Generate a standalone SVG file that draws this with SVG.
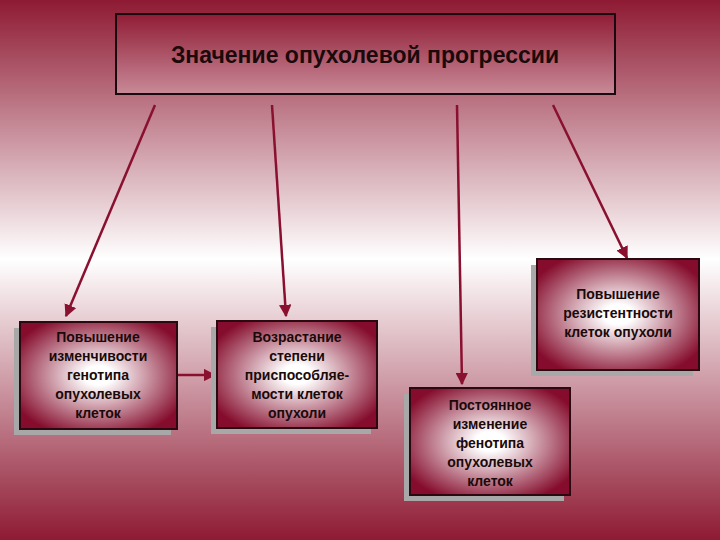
<svg xmlns="http://www.w3.org/2000/svg" width="720" height="540" viewBox="0 0 720 540">
<defs>
<linearGradient id="bg" x1="0" y1="0" x2="0" y2="1">
<stop offset="0" stop-color="#8e1a33"/><stop offset="0.48" stop-color="#ffffff"/><stop offset="1" stop-color="#8e1a33"/>
</linearGradient>
<linearGradient id="tg" x1="0" y1="0" x2="0" y2="1">
<stop offset="0" stop-color="#901c35"/><stop offset="1" stop-color="#c88a98"/>
</linearGradient>
<radialGradient id="bx" cx="0.5" cy="0.5" r="0.6">
<stop offset="0.15" stop-color="#ffffff"/><stop offset="1" stop-color="#850c2c"/>
</radialGradient>
<marker id="ah" viewBox="0 0 10 10" refX="9" refY="5" markerWidth="5" markerHeight="5" orient="auto">
<path d="M0,0 L10,5 L0,10 z" fill="#8a1030"/>
</marker>
<style>
.sh{fill:#a8a8a8}
.b{fill:url(#bx);stroke:#2a0a10;stroke-width:2}
.t{font-family:"Liberation Sans",Arial,sans-serif;font-size:14px;font-weight:bold;fill:#1a0a0a;text-anchor:middle}
.c{stroke:#8a1030;stroke-width:2.5;fill:none;marker-end:url(#ah)}
</style>
</defs>
<rect width="720" height="540" fill="url(#bg)"/>
<g id="title">
<rect x="116" y="14" width="499" height="80" fill="url(#tg)" stroke="#1a0a10" stroke-width="2"/>
<text x="365" y="63" class="t" style="font-size:23px">Значение опухолевой прогрессии</text>
</g>
<g id="connectors">
<line class="c" x1="155" y1="105" x2="66" y2="316"/>
<line class="c" x1="272" y1="105" x2="286" y2="316"/>
<line class="c" x1="457" y1="105" x2="462" y2="384"/>
<line class="c" x1="553" y1="105" x2="627" y2="258"/>
<line class="c" x1="178" y1="375" x2="215" y2="375"/>
</g>
<g id="n1">
<rect class="sh" x="14" y="328" width="157" height="107"/>
<rect class="b" x="20" y="322" width="157" height="107"/>
<text class="t" x="98" y="342">Повышение<tspan x="98" dy="19">изменчивости</tspan><tspan x="98" dy="19">генотипа</tspan><tspan x="98" dy="19">опухолевых</tspan><tspan x="98" dy="19">клеток</tspan></text>
</g>
<g id="n2">
<rect class="sh" x="211" y="327" width="160" height="107"/>
<rect class="b" x="217" y="321" width="160" height="107"/>
<text class="t" x="297" y="342">Возрастание<tspan x="297" dy="19">степени</tspan><tspan x="297" dy="19">приспособляе-</tspan><tspan x="297" dy="19">мости клеток</tspan><tspan x="297" dy="19">опухоли</tspan></text>
</g>
<g id="n3">
<rect class="sh" x="404" y="394" width="160" height="107"/>
<rect class="b" x="410" y="388" width="160" height="107"/>
<text class="t" x="490" y="410">Постоянное<tspan x="490" dy="19">изменение</tspan><tspan x="490" dy="19">фенотипа</tspan><tspan x="490" dy="19">опухолевых</tspan><tspan x="490" dy="19">клеток</tspan></text>
</g>
<g id="n4">
<rect class="sh" x="531" y="265" width="162" height="111"/>
<rect class="b" x="537" y="259" width="162" height="111"/>
<text class="t" x="618" y="299">Повышение<tspan x="618" dy="19">резистентности</tspan><tspan x="618" dy="19">клеток опухоли</tspan></text>
</g>
</svg>
